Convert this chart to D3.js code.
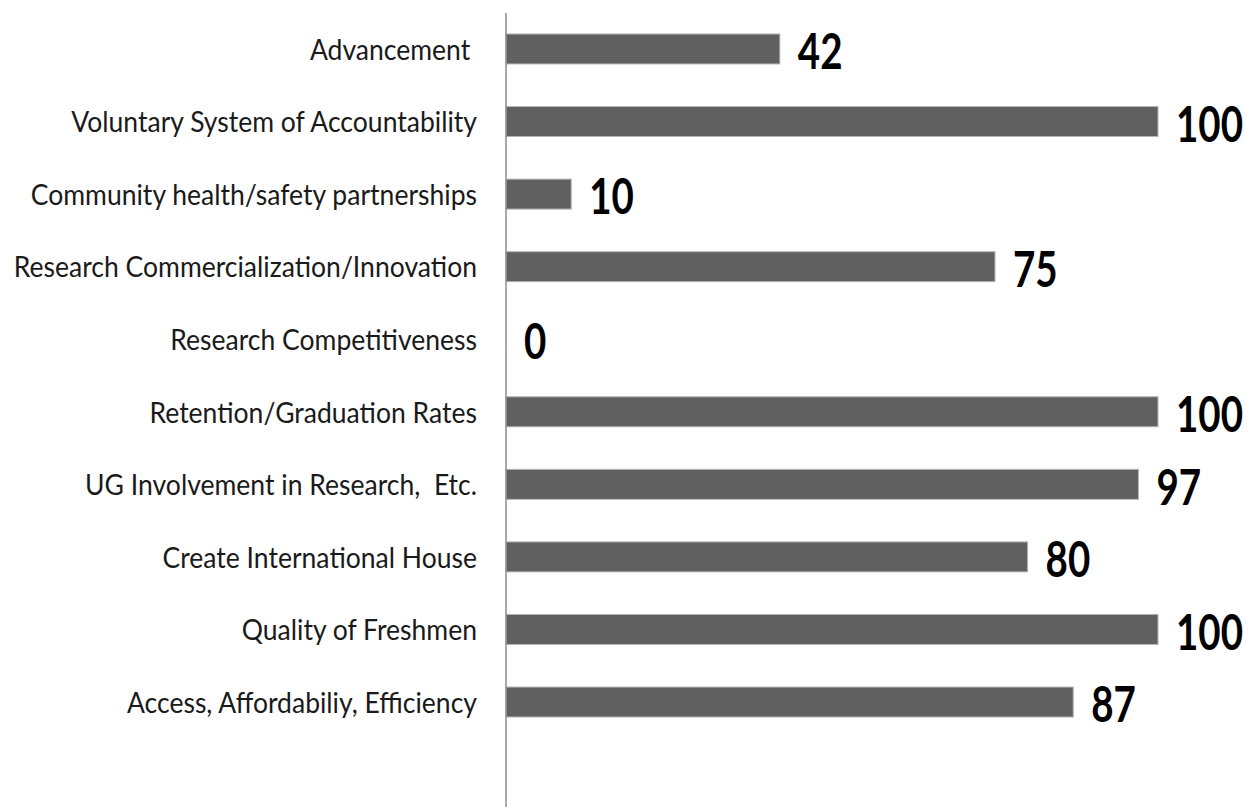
<!DOCTYPE html>
<html>
<head>
<meta charset="utf-8">
<script src="https://cdn.jsdelivr.net/npm/d3@7"></script>
<style>
  body { margin: 0; background: #fff; }
  svg { display: block; }
</style>
</head>
<body>
<script>
let categories = [
  "Advancement ",
  "Voluntary System of Accountability",
  "Community health/safety partnerships",
  "Research Commercialization/Innovation",
  "Research Competitiveness",
  "Retention/Graduation Rates",
  "UG Involvement in Research,  Etc.",
  "Create International House",
  "Quality of Freshmen",
  "Access, Affordabiliy, Efficiency"
];
let values = [42, 100, 10, 75, 0, 100, 97, 80, 100, 87];

let W = 1251, H = 807;
let svg = d3.select('body')
      .append('svg')
      .attr('width', W)
      .attr('height', H);

let x = d3.scaleLinear().domain([0, 100]).range([506, 1158]);
let y = d3.scaleBand().domain(categories).range([12.7, 738.3])
      .paddingInner(0.587).paddingOuter(0.2935);

let font = "Lato, 'DejaVu Sans Condensed', sans-serif";

// bars
svg.selectAll('rect.bar')
  .data(values)
  .enter().append('rect')
  .attr('class', 'bar')
  .attr('x', x(0))
  .attr('y', (d, i) => y(categories[i]))
  .attr('width', d => x(d) - x(0))
  .attr('height', y.bandwidth())
  .style('fill', '#606060')
  .style('stroke', d => d > 0 ? '#b4b4b4' : 'none')
  .style('stroke-width', 1);

// vertical axis line
svg.append('line')
  .attr('x1', x(0)).attr('x2', x(0))
  .attr('y1', 13).attr('y2', H)
  .style('stroke', '#8c8c8c')
  .style('stroke-width', 1.5);

// category labels (squeezed horizontally like the condensed original)
let cats = svg.selectAll('g.cat')
  .data(categories)
  .enter().append('g')
  .attr('class', 'cat');

let catText = cats.append('text')
  .attr('text-anchor', 'end')
  .attr('dy', '0.35em')
  .style('font-family', font)
  .style('font-size', '28px')
  .style('fill', '#1a1a1a')
  .style('white-space', 'pre')
  .text(d => d);

let refW = catText.filter(d => d.startsWith('Voluntary')).node().getComputedTextLength();
let sx = 406 / refW;
cats.attr('transform', d => `translate(477,${y(d) + y.bandwidth() / 2 + 1}) scale(${sx},1)`);

// value labels
let vals = svg.selectAll('g.val')
  .data(values)
  .enter().append('g')
  .attr('class', 'val');

let valText = vals.append('text')
  .attr('dy', '0.35em')
  .style('font-family', font)
  .style('font-weight', 'bold')
  .style('font-size', '49px')
  .style('fill', '#000')
  .text(d => d);

let refV = valText.filter(d => d === 100).node().getComputedTextLength();
let sv = 67 / refV;
vals.attr('transform', (d, i) => `translate(${x(d) + 18},${y(categories[i]) + y.bandwidth() / 2 + 3}) scale(${sv},1)`);
</script>
</body>
</html>
